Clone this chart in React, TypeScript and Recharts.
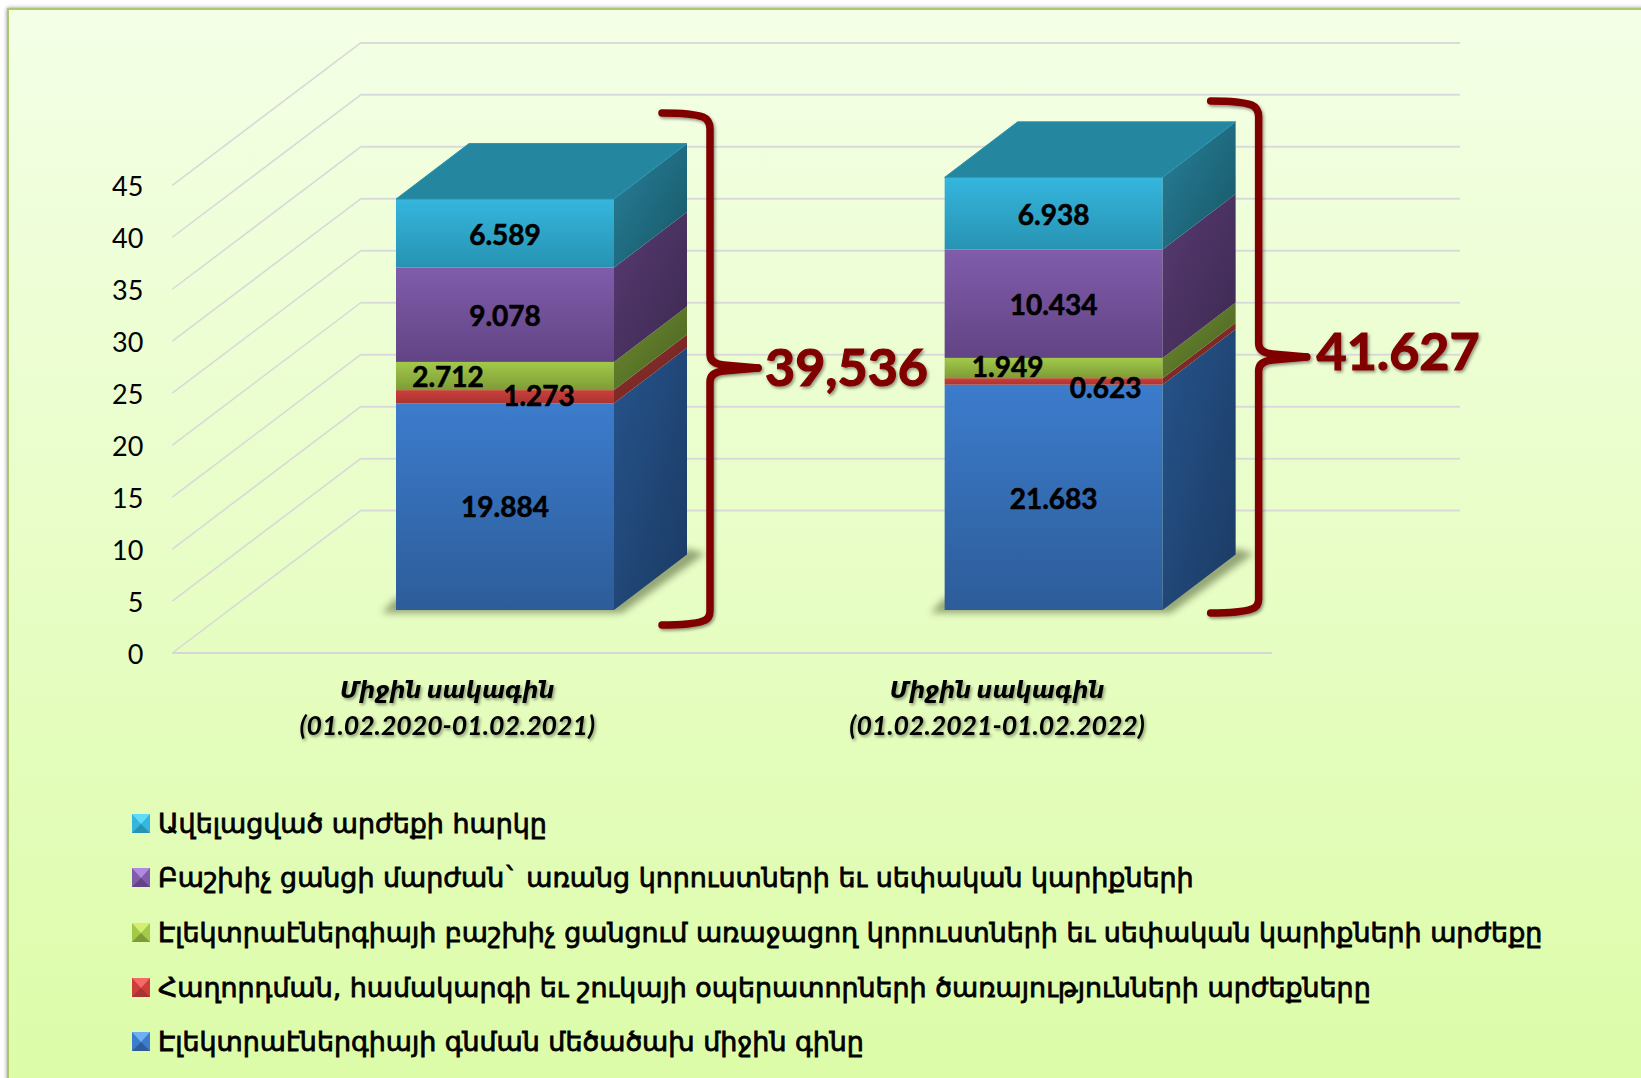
import React from 'react';
import { BarChart, Bar, XAxis, YAxis, CartesianGrid, Legend, LabelList } from 'recharts';

const categoryLine1 = ['Միջին սակագին', 'Միջին սակագին'];
const categoryLine2 = ['(01.02.2020-01.02.2021)', '(01.02.2021-01.02.2022)'];
const wholesalePrice = [19.884, 21.683];
const operatorServices = [1.273, 0.623];
const networkLosses = [2.712, 1.949];
const distributionMargin = [9.078, 10.434];
const vat = [6.589, 6.938];
const totalLabels = ['39,536', '41.627'];
const yTicks = [0, 5, 10, 15, 20, 25, 30, 35, 40, 45];

const seriesNames = [
  'Էլեկտրաէներգիայի գնման մեծածախ միջին գինը',
  'Հաղորդման, համակարգի եւ շուկայի օպերատորների ծառայությունների արժեքները',
  'Էլեկտրաէներգիայի բաշխիչ ցանցում առաջացող կորուստների եւ սեփական կարիքների արժեքը',
  'Բաշխիչ ցանցի մարժան` առանց կորուստների եւ սեփական կարիքների',
  'Ավելացված արժեքի հարկը',
];
const seriesKeys = ['wholesale', 'operators', 'losses', 'margin', 'vat'];
const seriesValues = [wholesalePrice, operatorServices, networkLosses, distributionMargin, vat];

const chartData = categoryLine1.map((_, i) => {
  const row: Record<string, number | string> = { category: String(i) };
  seriesKeys.forEach((k, s) => { row[k] = seriesValues[s][i]; });
  return row;
});

// styles
const fills = ['#3c7ccc', '#cd3e3a', '#a2c94a', '#805cab', '#35b6de'];
const frontEnd = ['#2d5c99', '#a83432', '#7e9c36', '#624484', '#2793b2'];
const sideStart = ['#26548c', '#8e2f2c', '#6b8a2e', '#573a72', '#28809b'];
const sideEnd = ['#1b3a63', '#6e2422', '#4a6222', '#3c2950', '#175665'];
const iconLight = ['#6fb0f5', '#f56a66', '#d5ee70', '#b08ae0', '#5fdcf8'];

const FONT = 'Lato, "DejaVu Sans", sans-serif';
const BRACKET = '#800000';
const SHIFT_X = [57.7, 56.5];
const SHIFT_Y = -43;
const DEPTH_X = 73;
const DEPTH_Y = -55.5;
const WALL_X = 188.4;
const WALL_Y = -142.4;
const WALL_RIGHT = 1460;

const labelShift: Record<string, [number, number][]> = {
  wholesale: [[0, 0.5], [0, 1.5]],
  operators: [[34, -0.5], [52, 7]],
  losses: [[-57, 1], [-46, -1]],
  margin: [[0, 1], [0, 1]],
  vat: [[0, 1.5], [0, 1.5]],
};

const brackets = [
  { top: 113, mid: 368, bottom: 625 },
  { top: 101, mid: 357, bottom: 613 },
];

function Brace({ x, top, mid, bottom }: { x: number; top: number; mid: number; bottom: number }) {
  const spine = x + 48;
  const tip = spine + 48;
  const up = `M${x} ${top} Q${spine - 18} ${top} ${spine - 7} ${top + 4} Q${spine} ${top + 7} ${spine} ${top + 16} L${spine} ${mid - 14} Q${spine} ${mid - 4} ${spine + 14} ${mid - 3} L${tip} ${mid}`;
  const down = `M${tip} ${mid} L${spine + 14} ${mid + 3} Q${spine} ${mid + 4} ${spine} ${mid + 14} L${spine} ${bottom - 14} Q${spine} ${bottom - 6} ${spine - 7} ${bottom - 4} Q${spine - 18} ${bottom} ${x} ${bottom}`;
  return (
    <g filter="url(#softShadow)">
      <path d={up} fill="none" stroke={BRACKET} strokeWidth={7.5} strokeLinecap="round" />
      <path d={down} fill="none" stroke={BRACKET} strokeWidth={7.5} strokeLinecap="round" />
    </g>
  );
}

function makeShape(s: number) {
  return function Shape(props: any) {
    const { x, y, width, height, index } = props;
    const left = x + SHIFT_X[index];
    const right = left + width;
    const top = y + SHIFT_Y;
    const bottom = top + height;
    const isFirst = s === 0;
    const isLast = s === seriesKeys.length - 1;
    const b = brackets[index];
    return (
      <g>
        {isFirst && (
          <polygon
            points={`${left - 14},${bottom + 3} ${right + 8},${bottom + 3} ${right + DEPTH_X + 18},${bottom + DEPTH_Y - 1} ${right + DEPTH_X},${bottom + DEPTH_Y - 6} ${right},${bottom - 8} ${left},${bottom - 12}`}
            fill="#5c6b40"
            opacity={0.6}
            filter="url(#floorBlur)"
          />
        )}
        <rect x={left} y={top} width={width} height={height} fill={`url(#front${s})`} />
        <polygon
          points={`${right},${top} ${right + DEPTH_X},${top + DEPTH_Y} ${right + DEPTH_X},${bottom + DEPTH_Y} ${right},${bottom}`}
          fill={`url(#side${s})`}
        />
        {isLast && (
          <>
            <polygon
              points={`${left},${top} ${left + DEPTH_X},${top + DEPTH_Y} ${right + DEPTH_X},${top + DEPTH_Y} ${right},${top}`}
              fill="#25869f"
              stroke="#2a93b0"
              strokeWidth={1}
            />
            <Brace x={right + 48} top={b.top} mid={b.mid} bottom={b.bottom} />
            <text
              x={index === 0 ? right + 314 : right + 317}
              y={index === 0 ? 386 : 370}
              textAnchor="end"
              fontFamily={FONT}
              fontWeight={700}
              fontSize={52}
              fill={BRACKET}
              stroke={BRACKET}
              strokeWidth={1.2}
              filter="url(#softShadow)"
            >
              {totalLabels[index]}
            </text>
          </>
        )}
      </g>
    );
  };
}

function makeLabel(key: string) {
  return function SegmentLabel(props: any) {
    const { x, y, width, height, value, index } = props;
    const [dx, dy] = labelShift[key][index];
    return (
      <text
        x={x + SHIFT_X[index] + width / 2 + dx}
        y={y + SHIFT_Y + height / 2 + 10 + dy}
        textAnchor="middle"
        fontFamily={FONT}
        fontWeight={700}
        fontSize={28}
        fill="#000"
        stroke="#000"
        strokeWidth={0.6}
      >
        {Number(value).toFixed(3)}
      </text>
    );
  };
}

function gridLine(props: any) {
  const { x1, y1, index } = props;
  const backY = y1 + WALL_Y;
  const backX = x1 + WALL_X;
  return (
    <g key={`grid-${index}`}>
      <line x1={x1} y1={y1} x2={backX} y2={backY} stroke="#d8d8d8" strokeWidth={1.5} />
      <line x1={backX} y1={backY} x2={WALL_RIGHT} y2={backY} stroke="#dadadc" strokeWidth={2} />
    </g>
  );
}

function CategoryTick(props: any) {
  const { x, payload } = props;
  const i = Number(payload.value);
  return (
    <g filter="url(#softShadow)">
      <text x={x} y={698} textAnchor="middle" fontFamily={FONT} fontStyle="italic" fontWeight={700} fontSize={22.4} fill="#000">
        {categoryLine1[i]}
      </text>
      <text x={x} y={735} textAnchor="middle" fontFamily={FONT} fontStyle="italic" fontWeight={700} fontSize={26.6} fill="#000">
        {categoryLine2[i]}
      </text>
    </g>
  );
}

function BevelIcon({ base, dark, light }: { base: string; dark: string; light: string }) {
  return (
    <svg width={18} height={19} style={{ display: 'block', flex: 'none' }}>
      <rect width={18} height={19} fill={base} />
      <polygon points="0,0 18,0 9,10" fill={light} />
      <polygon points="0,19 18,19 9,10" fill={dark} />
    </svg>
  );
}

function LegendContent() {
  const order = seriesKeys.map((_, s) => s).reverse();
  return (
    <div style={{ display: 'flex', flexDirection: 'column' }}>
      {order.map((s) => (
        <div key={seriesKeys[s]} style={{ display: 'flex', alignItems: 'center', height: 54.6, gap: 8 }}>
          <BevelIcon base={fills[s]} dark={frontEnd[s]} light={iconLight[s]} />
          <span style={{ fontFamily: '"DejaVu Sans", sans-serif', fontSize: 26.9, fontWeight: 400, color: '#000', whiteSpace: 'nowrap', WebkitTextStroke: '0.8px #000' }}>
            {seriesNames[s]}
          </span>
        </div>
      ))}
    </div>
  );
}

export default function App() {
  return (
    <div style={{ position: 'absolute', left: 0, top: 0, width: 1641, height: 1078, overflow: 'hidden', background: '#fff' }}>
      <div
        style={{
          position: 'absolute', left: 7, top: 8, width: 1700, height: 1100,
          border: '2px solid #a9c96c', boxSizing: 'border-box',
          background: 'linear-gradient(180deg, #f4ffe6 0%, #dcfca8 98%)',
          boxShadow: '0 0 4px rgba(0,0,0,0.45)',
        }}
      />
      <div style={{ position: 'absolute', left: 0, top: 0 }}>
        <BarChart
          width={1641}
          height={1078}
          data={chartData}
          barSize={218}
          margin={{ top: 185.3, left: 72.3, right: 369, bottom: 325 }}
        >
          <defs>
            {fills.map((f, s) => (
              <linearGradient key={`f${s}`} id={`front${s}`} x1="0" y1="0" x2="0" y2="1">
                <stop offset="0" stopColor={f} />
                <stop offset="1" stopColor={frontEnd[s]} />
              </linearGradient>
            ))}
            {sideStart.map((c, s) => (
              <linearGradient key={`s${s}`} id={`side${s}`} x1="0" y1="0" x2="1" y2="1">
                <stop offset="0" stopColor={c} />
                <stop offset="1" stopColor={sideEnd[s]} />
              </linearGradient>
            ))}
            <filter id="floorBlur" x="-20%" y="-50%" width="140%" height="200%">
              <feGaussianBlur stdDeviation="3.5" />
            </filter>
            <filter id="softShadow" x="-10%" y="-10%" width="120%" height="120%">
              <feDropShadow dx="1.5" dy="2" stdDeviation="1.5" floodColor="#000" floodOpacity="0.4" />
            </filter>
          </defs>
          <CartesianGrid vertical={false} horizontal={gridLine as any} />
          <XAxis
            dataKey="category"
            tick={CategoryTick as any}
            tickLine={false}
            axisLine={{ stroke: '#d6d6d6', strokeWidth: 2 }}
            interval={0}
            height={100}
          />
          <YAxis
            domain={[0, 45]}
            ticks={yTicks}
            width={100}
            axisLine={false}
            tickLine={false}
            tickSize={0}
            tickMargin={29}
            tick={{ fontFamily: FONT, fontSize: 27, fill: '#000', dy: 1 }}
          />
          <Legend
            layout="vertical"
            align="center"
            verticalAlign="middle"
            content={LegendContent as any}
            wrapperStyle={{ left: 132, top: 796, width: 1500 }}
          />
          {seriesKeys.map((k, s) => (
            <Bar
              key={k}
              dataKey={k}
              name={seriesNames[s]}
              stackId="a"
              fill={fills[s]}
              shape={makeShape(s) as any}
              isAnimationActive={false}
            >
              <LabelList dataKey={k} content={makeLabel(k) as any} />
            </Bar>
          ))}
        </BarChart>
      </div>
    </div>
  );
}
